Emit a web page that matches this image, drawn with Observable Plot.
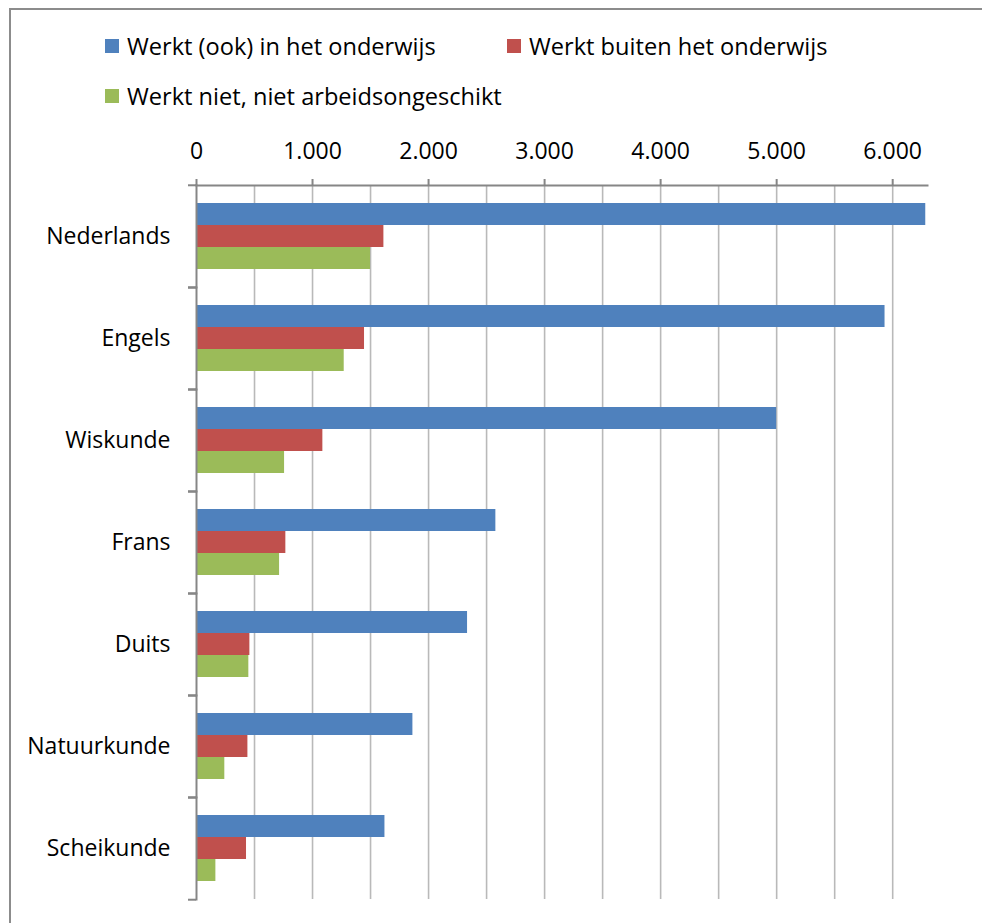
<!DOCTYPE html>
<html>
<head>
<meta charset="utf-8">
<script src="https://cdn.jsdelivr.net/npm/d3@7"></script>
<script src="https://cdn.jsdelivr.net/npm/@observablehq/plot@0.6"></script>
<style>
  html, body { margin: 0; padding: 0; background: #fff; overflow: hidden; }
  body { width: 982px; height: 923px; position: relative; font-family: "Open Sans", sans-serif; }
  #frame { position: absolute; left: 9px; top: 8px; width: 1200px; height: 1200px;
           border-left: 2px solid #8c8c8c; border-top: 2px solid #8c8c8c; box-sizing: border-box; }
  #legend { position: absolute; left: 105px; top: 29px; display: grid;
            grid-template-columns: 402px 402px; row-gap: 16px; font-size: 23.6px; color: #000; }
  .item { display: flex; align-items: center; height: 34px; white-space: nowrap; }
  .sw { width: 14px; height: 14px; margin-right: 8px; flex: none; }
  #chart { position: absolute; left: 0; top: 130px; }
</style>
</head>
<body>
<div id="frame"></div>
<div id="legend"></div>
<div id="chart"></div>
<script>
const categories = ["Nederlands", "Engels", "Wiskunde", "Frans", "Duits", "Natuurkunde", "Scheikunde"];
const series = ["Werkt (ook) in het onderwijs", "Werkt buiten het onderwijs", "Werkt niet, niet arbeidsongeschikt"];
const inOnderwijs     = [6285, 5934, 5000, 2580, 2336, 1865, 1624];
const buitenOnderwijs = [1615, 1448, 1089,  770,  460,  443,  431];
const werktNiet       = [1500, 1273,  759,  716,  451,  244,  167];
const colors = ["#4F81BD", "#C0504D", "#9BBB59"];
const xTicks = [0, 1000, 2000, 3000, 4000, 5000, 6000];
const gridTicks = [500, 1000, 1500, 2000, 2500, 3000, 3500, 4000, 4500, 5000, 5500, 6000];
const xMax = 6300;

const seriesValues = [inOnderwijs, buitenOnderwijs, werktNiet];
const data = [];
categories.forEach((c, i) => series.forEach((s, j) => data.push({category: c, series: s, value: seriesValues[j][i]})));

// legend
const legend = document.getElementById("legend");
series.forEach((s, j) => {
  const it = document.createElement("div");
  it.className = "item";
  it.innerHTML = `<span class="sw" style="background:${colors[j]}"></span><span>${s}</span>`;
  legend.appendChild(it);
});

const W = 982, H = 793, mt = 53, mb = 23, ml = 196, mr = 55;
const step = (H - mt - mb) / categories.length;
const fmt = d => d3.format(",")(d).replace(/,/g, ".");
const axisColor = "#868686";

const chart = Plot.plot({
  width: W, height: H,
  marginTop: mt, marginBottom: mb, marginLeft: ml, marginRight: mr,
  style: {fontFamily: "Open Sans", fontSize: "23px", color: "#000", background: "transparent", overflow: "visible"},
  x: {domain: [0, xMax], axis: null},
  fy: {domain: categories, padding: 0, axis: null, label: null},
  y: {domain: series, paddingInner: 0, paddingOuter: 0.75, axis: null},
  color: {domain: series, range: colors},
  marks: [
    Plot.ruleX(gridTicks, {stroke: "#b9b9b9", strokeWidth: 1.6}),
    Plot.barX(data, {fy: "category", y: "series", x: "value", fill: "series"}),
    Plot.frame({anchor: "left", stroke: axisColor, strokeWidth: 2}),
    Plot.frame({anchor: "top", facetAnchor: "top", stroke: axisColor, strokeWidth: 2}),
    Plot.axisX(xTicks, {anchor: "top", tickSize: 7, tickPadding: 20, tickFormat: fmt, stroke: axisColor, strokeWidth: 2, fill: "#000", fontSize: 23, label: null}),
    Plot.axisFy({anchor: "left", tickSize: 8, text: null, dy: -step / 2, stroke: axisColor, strokeWidth: 2}),
    Plot.axisFy([categories[categories.length - 1]], {anchor: "left", tickSize: 8, text: null, dy: step / 2, stroke: axisColor, strokeWidth: 2}),
    Plot.axisFy({anchor: "left", tickSize: 0, tickPadding: 26, fontSize: 23, fill: "#000", label: null})
  ]
});
document.getElementById("chart").appendChild(chart);
</script>
</body>
</html>
